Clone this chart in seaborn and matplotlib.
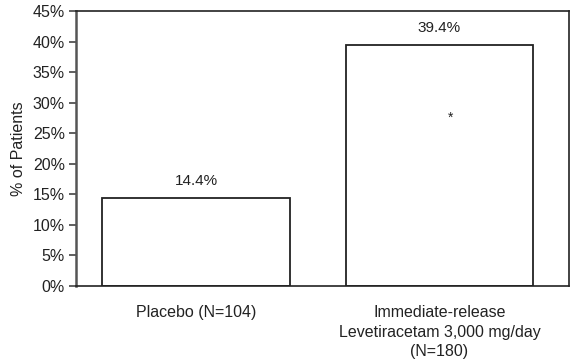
import matplotlib
matplotlib.use('Agg')
import matplotlib.pyplot as plt
import seaborn as sns
import pandas as pd

# 数据
groups = ['Placebo (N=104)', 'Immediate-release\nLevetiracetam 3,000 mg/day\n(N=180)']
percent = [14.4, 39.4]
value_labels = ['14.4%', '39.4%']
y_ticks = [0, 5, 10, 15, 20, 25, 30, 35, 40, 45]

sns.set_theme(style='white')
plt.rcParams['font.family'] = ['Liberation Sans', 'DejaVu Sans']

df = pd.DataFrame({'group': groups, 'pct': percent})

fig = plt.figure(figsize=(5.72, 3.63), dpi=100)
ax = fig.add_axes([76 / 572, 1 - 286 / 363, 493 / 572, 275 / 363])

sns.barplot(data=df, x='group', y='pct', ax=ax, width=0.772,
            color='white', edgecolor='#222222', linewidth=1.3)

for i, (v, t) in enumerate(zip(percent, value_labels)):
    ax.text(i, v + 1.6, t, ha='center', va='bottom', fontsize=11, color='#222222')

# 显著性标记
ax.text(1.047, 27.6, '*', ha='center', va='center', fontsize=10, color='#222222')

ax.set_xlim(-0.493, 1.532)
ax.set_ylim(0, 45)
ax.set_yticks(y_ticks)
ax.set_yticklabels([f'{t}%' for t in y_ticks], fontsize=11.5, color='#222222')
ax.tick_params(axis='y', left=True, length=5, width=1.2, color='#444444', pad=3)
ax.tick_params(axis='x', bottom=False, labelsize=11.5, labelcolor='#222222', pad=8)
for lab in ax.get_xticklabels():
    lab.set_linespacing(1.35)
ax.set_xlabel('')
ax.set_ylabel('% of Patients', fontsize=11.5, color='#222222', labelpad=5)

for name, sp in ax.spines.items():
    sp.set_visible(True)
    sp.set_color('#222222')
    sp.set_linewidth(1.2)
ax.spines['left'].set_color('#555555')
ax.spines['left'].set_linewidth(1.8)

fig.savefig('out.png', dpi=100)
